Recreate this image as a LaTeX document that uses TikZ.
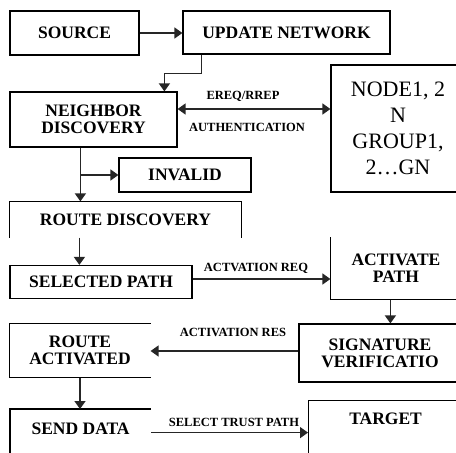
\documentclass[tikz,border=0pt]{standalone}
\usepackage{fontspec}
\setmainfont{Liberation Serif}
\newfontfamily\boxfont{Liberation Serif}
\usetikzlibrary{arrows.meta,calc}

\begin{document}
\begin{tikzpicture}[x=1pt,y=-1pt,
    box/.style={draw, line width=1.2pt, inner sep=0pt, align=center,
      font=\boxfont\bfseries\fontsize{17.5}{17}\selectfont},
    openbox/.style={box, draw=none},
    group box/.style={box, font=\boxfont\fontsize{22}{26}\selectfont},
    rim/.style={line width=1.2pt},
    flow/.style={line width=1.4pt, draw=black!85, -{Triangle[length=8pt,width=11pt]}},
    both flow/.style={flow, {Triangle[length=8pt,width=11pt]}-{Triangle[length=8pt,width=11pt]}},
    tag/.style={inner sep=0pt, font=\boxfont\bfseries\fontsize{12.5}{13}\selectfont}
  ]
\useasboundingbox (0,0) rectangle (456,453);
\clip (0,0) rectangle (456,453);

% boxes
\node[box, minimum width=129pt, minimum height=44pt] (src) at (74.5,33) {SOURCE};
\node[box, minimum width=207pt, minimum height=43pt] (upd) at (286.5,32.5) {UPDATE NETWORK};
\node[box, minimum width=167pt, minimum height=55pt] (nbr) at (93.5,119.5) {NEIGHBOR\\DISCOVERY};
\node[group box, minimum width=134pt, minimum height=127pt] (grp) at (398,128.5) {NODE1, 2\\N\\GROUP1,\\2…GN};
\node[box, minimum width=132pt, minimum height=34pt] (inv) at (185,175) {INVALID};
\node[openbox, minimum width=231pt, minimum height=35pt] (rdisc) at (125.5,219.5) {ROUTE DISCOVERY};
\node[box, minimum width=182pt, minimum height=33pt] (sel) at (101,282) {SELECTED PATH};
\node[openbox, minimum width=130pt, minimum height=61pt] (act) at (396,268.5) {ACTIVATE\\PATH};
\node[box, minimum width=162pt, minimum height=58pt] (sig) at (380,353) {SIGNATURE\\VERIFICATIO};
\node[openbox, minimum width=140pt, minimum height=53pt] (ract) at (80,350.5) {ROUTE\\ACTIVATED};
\node[openbox, anchor=north west, minimum width=140pt, text height=24.5pt, text depth=40pt] (send) at (10,409) {SEND DATA};
\node[box, anchor=north west, minimum width=154pt, text height=23.5pt, text depth=40pt] (tgt) at (308,400) {TARGET};

% open sides
\draw[rim] (rdisc.south west) -- (rdisc.north west) -- (rdisc.north east) -- (rdisc.south east);
\draw[rim] (act.north west) -- (act.south west) -- (act.south east);
\draw[rim] (ract.north east) -- (ract.north west) -- (ract.south west) -- (ract.south east);
\draw[rim] (send.south west) -- (send.north west) -- (send.north east);

% labels
\node[tag] (lreq) at (243,96) {EREQ/RREP};
\node[tag] (lauth) at (247,127) {AUTHENTICATION};
\node[tag] (lareq) at (256,268) {ACTVATION REQ};
\node[tag] (lares) at (233,332) {ACTIVATION RES};
\node[tag] (ltrust) at (234,422) {SELECT TRUST PATH};

% connectors
\draw[flow] (src.east) -- (src.east -| upd.west);
\draw[flow] ([xshift=19pt]upd.south west) -- ++(0,19) -| ([xshift=155pt]nbr.north west);
\draw[both flow] ([yshift=10.5pt]nbr.east) -- ([yshift=10.5pt]nbr.east -| grp.west);
\draw[flow] ([xshift=71pt]nbr.south west) -- ([xshift=71pt]rdisc.north west);
\draw[flow] ([xshift=71pt]nbr.south west |- inv.west) -- (inv.west);
\draw[flow] ([xshift=70pt]rdisc.south west) -- ([xshift=70pt]sel.north west);
\draw[flow] ([yshift=3pt]sel.east) -- ([yshift=3pt]sel.east -| act.west);
\draw[flow] ([xshift=60pt]act.south west) -- ([xshift=60pt]act.south west |- sig.north);
\draw[flow] ([yshift=2pt]sig.west) -- ([yshift=2pt]sig.west -| ract.east);
\draw[flow] (ract.south) -- (ract.south |- send.north);
\draw[flow] ([yshift=1.5pt]send.base east) -- ([yshift=1.5pt]send.base east -| tgt.west);
\end{tikzpicture}
\end{document}
